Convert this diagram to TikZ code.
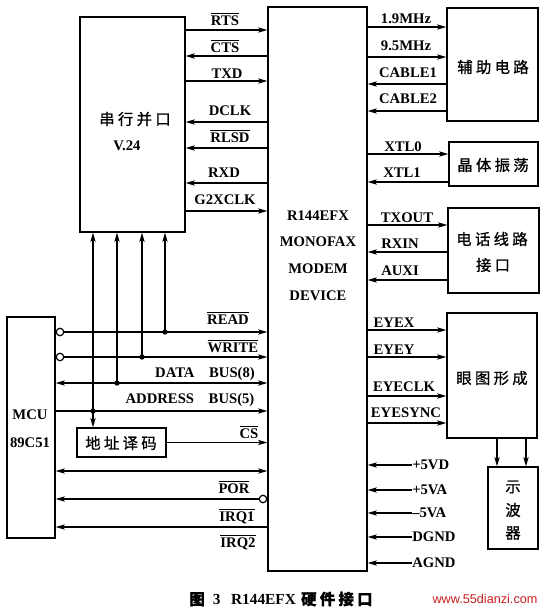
\documentclass[tikz,border=0pt]{standalone}
\usepackage{fontspec}
\setmainfont{Liberation Serif}
\newfontfamily\cjk[FakeBold=1]{Noto Sans CJK SC}
\newfontfamily\wmfont{Liberation Sans}
\usetikzlibrary{arrows.meta,fit}
\newcommand\ob[1]{$\overline{\hbox{#1}}$}
\newcommand\cs{\hspace{2.5pt}}
\tikzset{
  box/.style={draw, line width=1pt, inner sep=0pt},
  sig/.style={line width=0.9pt, -{Stealth[length=7pt,width=4pt,inset=1.8pt]}},
  sigb/.style={line width=0.9pt, {Stealth[length=7pt,width=4pt,inset=1.8pt]}-{Stealth[length=7pt,width=4pt,inset=1.8pt]}},
  lbl/.style={font=\fontsize{11}{13}\selectfont\bfseries, inner sep=0pt, anchor=base},
  txt/.style={font=\fontsize{11}{13}\selectfont\bfseries, inner sep=0pt},
  pw/.style={font=\fontsize{11}{13}\selectfont\bfseries, inner sep=0pt, anchor=west},
  zh/.style={font=\fontsize{11.5}{13}\selectfont\cjk, inner sep=0pt},
  dot/.style={circle, fill, inner sep=0pt, minimum size=4pt},
  bub/.style={circle, draw, line width=0.9pt, fill=white, inner sep=0pt, minimum size=5.6pt},
}
\begin{document}
\begin{tikzpicture}[x=0.75pt,y=-0.75pt]
\useasboundingbox (0,0) rectangle (546,611);

% boxes
\node[box, fit={(80,17)(185,232)}] (ser) {};
\node[box, fit={(268,7)(367,571)}] (main) {};
\node[box, fit={(447,8)(538,121)}] (aux) {};
\node[box, fit={(449,142)(538,186)}] (xtal) {};
\node[box, fit={(448,208)(539,293)}] (tel) {};
\node[box, fit={(447,313)(537,438)}] (eye) {};
\node[box, fit={(488,467)(538,549)}] (osc) {};
\node[box, fit={(7,317)(55,538)}] (mcu) {};
\node[box, fit={(77,428)(166,457)}] (dec) {};

% box texts
\node[zh] (sert) at (135,119) {串\cs 行\cs 并\cs 口};
\node[txt] (serv) at (127,146) {V.24};
\node[txt] (m1) at (318,216) {R144EFX};
\node[txt] (m2) at (318,242) {MONOFAX};
\node[txt] (m3) at (318,269) {MODEM};
\node[txt] (m4) at (318,296) {DEVICE};
\node[zh] (auxt) at (493,67) {辅\cs 助\cs 电\cs 路};
\node[zh] (xtalt) at (493,165) {晶\cs 体\cs 振\cs 荡};
\node[zh] (telt1) at (492,239) {电\cs 话\cs 线\cs 路};
\node[zh] (telt2) at (493,265) {接\cs 口};
\node[zh] (eyet) at (492,378) {眼\cs 图\cs 形\cs 成};
\node[zh] (osc1) at (513,487) {示};
\node[zh] (osc2) at (513,510) {波};
\node[zh] (osc3) at (513,533) {器};
\node[zh] (dect) at (121,443) {地\cs 址\cs 译\cs 码};
\node[txt] (mcut1) at (30,415) {MCU};
\node[txt] (mcut2) at (30,443) {89C51};

% serial port signals
\draw[sig] (ser.east |- 0,30) -- (main.west |- 0,30);
\node[lbl] (lrts) at (225,25) {\ob{RTS}};
\draw[sig] (main.west |- 0,56) -- (ser.east |- 0,56);
\node[lbl] (lcts) at (225,52) {\ob{CTS}};
\draw[sig] (ser.east |- 0,81) -- (main.west |- 0,81);
\node[lbl] (ltxd) at (227,78) {TXD};
\draw[sig] (main.west |- 0,122) -- (ser.east |- 0,122);
\node[lbl] (ldclk) at (230,115) {DCLK};
\draw[sig] (main.west |- 0,148) -- (ser.east |- 0,148);
\node[lbl] (lrlsd) at (230,142) {\ob{RLSD}};
\draw[sig] (main.west |- 0,183) -- (ser.east |- 0,183);
\node[lbl] (lrxd) at (224,177) {RXD};
\draw[sig] (ser.east |- 0,211) -- (main.west |- 0,211);
\node[lbl] (lg2) at (225,204) {G2XCLK};

% right side signals
\draw[sig] (main.east |- 0,27) -- (aux.west |- 0,27);
\node[lbl] (l19) at (406,23) {1.9MHz};
\draw[sig] (main.east |- 0,57) -- (aux.west |- 0,57);
\node[lbl] (l95) at (406,50) {9.5MHz};
\draw[sig] (aux.west |- 0,84) -- (main.east |- 0,84);
\node[lbl] (lc1) at (408,77) {CABLE1};
\draw[sig] (aux.west |- 0,111) -- (main.east |- 0,111);
\node[lbl] (lc2) at (408,103) {CABLE2};
\draw[sig] (main.east |- 0,154) -- (xtal.west |- 0,154);
\node[lbl] (lx0) at (403,151) {XTL0};
\draw[sig] (xtal.west |- 0,182) -- (main.east |- 0,182);
\node[lbl] (lx1) at (402,177) {XTL1};
\draw[sig] (main.east |- 0,225) -- (tel.west |- 0,225);
\node[lbl] (ltx) at (407,222) {TXOUT};
\draw[sig] (tel.west |- 0,252) -- (main.east |- 0,252);
\node[lbl] (lrx) at (400,248) {RXIN};
\draw[sig] (tel.west |- 0,280) -- (main.east |- 0,280);
\node[lbl] (laux) at (400,275) {AUXI};
\draw[sig] (main.east |- 0,330) -- (eye.west |- 0,330);
\node[lbl] (lex) at (394,327) {EYEX};
\draw[sig] (main.east |- 0,357) -- (eye.west |- 0,357);
\node[lbl] (ley) at (394,354) {EYEY};
\draw[sig] (main.east |- 0,396) -- (eye.west |- 0,396);
\node[lbl] (lec) at (404,391) {EYECLK};
\draw[sig] (main.east |- 0,423) -- (eye.west |- 0,423);
\node[lbl] (les) at (406,417) {EYESYNC};

% eye -> oscilloscope
\draw[sig] (eye.south -| 497,0) -- (osc.north -| 497,0);
\draw[sig] (eye.south -| 526,0) -- (osc.north -| 526,0);

% power
\node[pw] (p1) at (412,465) {+5VD};
\node[pw] (p2) at (412,490) {+5VA};
\node[pw] (p3) at (412,513) {--5VA};
\node[pw] (p4) at (412,537) {DGND};
\node[pw] (p5) at (412,563) {AGND};
\foreach \p in {p1,p2,p3,p4,p5}
  \draw[sig] (\p.west) -- (main.east |- \p.west);

% MCU bus
\node[bub, anchor=west] (b1) at (mcu.east |- 0,332) {};
\node[bub, anchor=west] (b2) at (mcu.east |- 0,357) {};
\draw[sig] (b1.east) -- (main.west |- b1.east);
\draw[sig] (b2.east) -- (main.west |- b2.east);
\node[lbl] (lrd) at (228,324) {\ob{READ}};
\node[lbl] (lwr) at (233,352) {\ob{WRITE}};
\draw[sigb] (mcu.east |- 0,383) -- (main.west |- 0,383);
\node[lbl] (ldb) at (205,377) {DATA\hspace{1em}BUS(8)};
\draw[sig] (mcu.east |- 0,411) -- (main.west |- 0,411);
\node[lbl] (lab) at (190,403) {ADDRESS\hspace{1em}BUS(5)};

\node[dot] (d1) at (165,332) {};
\node[dot] (d2) at (142,357) {};
\node[dot] (d3) at (117,383) {};
\node[dot] (d4) at (93,411) {};
\draw[sig] (d1.center) -- (ser.south -| d1);
\draw[sig] (d2.center) -- (ser.south -| d2);
\draw[sig] (d3.center) -- (ser.south -| d3);
\draw[sig] (d4.center) -- (ser.south -| d4);
\draw[sig] (d4.center) -- (dec.north -| d4);

\draw[sig] (dec.east) -- (main.west |- dec.east);
\node[lbl] (lcs) at (249,438) {\ob{CS}};
\draw[sigb] (mcu.east |- 0,471) -- (main.west |- 0,471);
\node[bub, anchor=east] (b3) at (main.west |- 0,499) {};
\draw[sig] (b3.west) -- (mcu.east |- b3.west);
\node[lbl] (lpor) at (234,493) {\ob{POR}};
\draw[sig] (main.west |- 0,527) -- (mcu.east |- 0,527);
\node[lbl] (lirq1) at (237,521) {\ob{IRQ1}};
\node[lbl] (lirq2) at (238,547) {\ob{IRQ2}};

% caption
\node[inner sep=0pt, font=\fontsize{11.5}{13}\selectfont\bfseries] (cap) at (281,599) {{\cjk 图}\hspace{6pt}3\hspace{8pt}R144EFX\hspace{4pt}{\cjk 硬\cs 件\cs 接\cs 口}};
\node[inner sep=0pt, font=\fontsize{9.5}{11}\selectfont\wmfont, text={rgb,255:red,200;green,30;blue,30}] (wm) at (485,599) {www.55dianzi.com};
\end{tikzpicture}
\end{document}
